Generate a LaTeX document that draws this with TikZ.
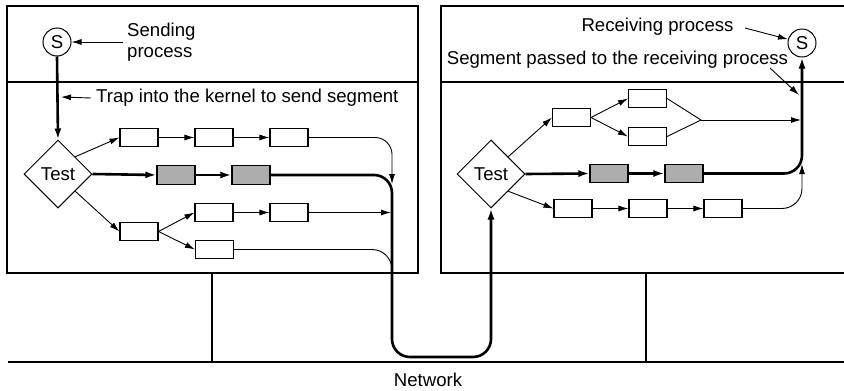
\documentclass[tikz,border=0pt]{standalone}
\usepackage{fontspec}
\setmainfont{Liberation Sans}
\usetikzlibrary{shapes.geometric,arrows.meta}
\begin{document}
\begin{tikzpicture}[x=1pt,y=-1pt,
  every node/.style={font=\fontsize{18.6}{21}\selectfont},
  frame/.style={line width=1.1pt},
  pbox/.style={draw, line width=1.1pt, minimum width=38pt, minimum height=18.5pt, inner sep=0pt},
  gbox/.style={pbox, fill=black!32},
  proc/.style={draw, circle, line width=1pt, minimum size=28pt, inner sep=0pt},
  testd/.style={draw, diamond, aspect=1, line width=1pt, minimum width=68pt, minimum height=68pt, inner sep=0pt},
  thin/.style={line width=0.9pt},
  thick path/.style={line width=2.6pt},
  tip/.style={-{Latex[length=10pt,width=6pt]}},
  bigtip/.style={-{Latex[length=11pt,width=7pt]}}
]
\useasboundingbox (0,0) rectangle (844,391);
% frames
\draw[frame] (7,6) rectangle (418,273);
\draw[frame] (7,82) -- (418,82);
\draw[frame] (844,6) -- (441,6) -- (441,273) -- (844,273);
\draw[frame] (441,82) -- (844,82);
\draw[frame] (212,273) -- (212,362);
\draw[frame] (646,273) -- (646,362);
\draw[frame] (8,362) -- (844,362);
\node (net) at (428,380) {Network};

% left host
\node[proc] (S1) at (57,42) {S};
\node[testd] (D1) at (58,174) {Test};
\node[pbox] (L1) at (139,137.5) {};
\node[pbox] (L2) at (214,137.5) {};
\node[pbox] (L3) at (289,137.5) {};
\node[gbox] (G1) at (176,175) {};
\node[gbox] (G2) at (251,175) {};
\node[pbox] (La) at (139,231.5) {};
\node[pbox] (Lb) at (214,212.5) {};
\node[pbox] (Lc) at (289,212.5) {};
\node[pbox] (Ld) at (214.5,249.5) {};
\node[anchor=west, align=left, inner sep=0pt] (sendlbl) at (127,42) {Sending\\process};
\node[anchor=west, inner sep=0pt] (trap) at (96,98) {Trap into the kernel to send segment};
\coordinate (c1) at (123,42);
\coordinate (c2) at (91,98);
\coordinate (c3) at (61,97);
\coordinate (b1) at (392,184);
\coordinate (b2) at (391,212.5);
\coordinate (b3) at (392,278);

% right host
\node[proc] (S2) at (802,43) {S};
\node[testd] (D2) at (491,174) {Test};
\node[pbox] (RA) at (571.5,117.5) {};
\node[pbox] (RB) at (647.5,98.5) {};
\node[pbox] (RC) at (647.5,136.5) {};
\node[gbox] (RG1) at (609,173.5) {};
\node[gbox] (RG2) at (684,173.5) {};
\node[pbox] (R1) at (573,208.5) {};
\node[pbox] (R2) at (648,208.5) {};
\node[pbox] (R3) at (723,208.5) {};
\node[inner sep=0pt] (recv) at (657.5,27) {Receiving process};
\node[inner sep=0pt] (seg) at (617.5,60) {Segment passed to the receiving process};
\coordinate (M) at (701,120);
\coordinate (m2) at (801,120);
\coordinate (c4) at (745,28);
\coordinate (c5) at (770,68);
\coordinate (c6) at (799,95);
\coordinate (r1) at (802,164);

% left connectors
\draw[thin,tip] (c1) -- (S1.east);
\draw[thin,tip] (c2) -- (c3);
\draw[thick path,bigtip] (S1.south) -- (D1.north);
\draw[thin,tip] (D1.north east) -- (L1.west);
\draw[thin,tip] (L1.east) -- (L2.west);
\draw[thin,tip] (L2.east) -- (L3.west);
\draw[thin,tip,rounded corners=17pt] (L3.east) -| (b1);
\draw[thick path,bigtip] (D1.east) -- (G1.west);
\draw[thick path,bigtip] (G1.east) -- (G2.west);
\draw[thin,tip] (D1.south east) -- (La.west);
\draw[thin,tip] (La.east) -- (Lb.west);
\draw[thin,tip] (La.east) -- (Ld.west);
\draw[thin,tip] (Lb.east) -- (Lc.west);
\draw[thin,tip] (Lc.east) -- (b2);
\draw[thin,rounded corners=20pt] (Ld.east) -| (b3);
\draw[thick path,bigtip,rounded corners=18pt] (G2.east) -- (392,175) -- (392,357) -- (491,357) -- (D2.south);

% right connectors
\draw[thin,tip] (c4) -- (S2);
\draw[thin,tip] (c5) -- (c6);
\draw[thin,tip] (D2.north east) -- (RA.west);
\draw[thin,tip] (RA.east) -- (RB.west);
\draw[thin,tip] (RA.east) -- (RC.west);
\draw[thin] (RB.east) -- (M) -- (RC.east);
\draw[thin,tip] (M) -- (m2);
\draw[thick path,bigtip] (D2.east) -- (RG1.west);
\draw[thick path,bigtip] (RG1.east) -- (RG2.west);
\draw[thick path,bigtip,rounded corners=18pt] (RG2.east) -- (802,173.5) -- (S2.south);
\draw[thin,tip] (D2.south east) -- (R1.west);
\draw[thin,tip] (R1.east) -- (R2.west);
\draw[thin,tip] (R2.east) -- (R3.west);
\draw[thin,tip,rounded corners=20pt] (R3.east) -| (r1);
\end{tikzpicture}
\end{document}
